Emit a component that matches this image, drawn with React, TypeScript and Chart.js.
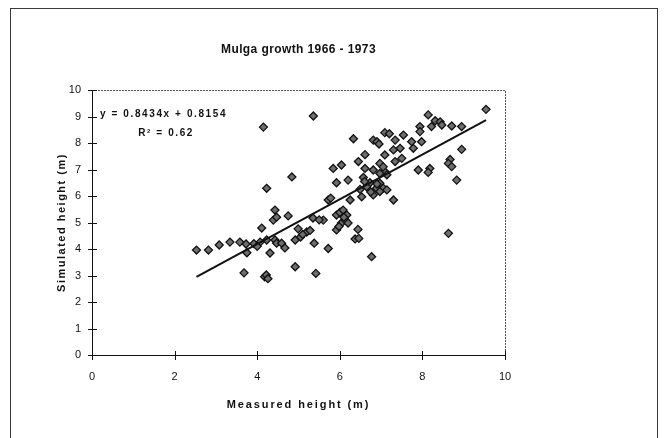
import React, { useEffect, useRef } from "react";
import { Chart, registerables } from "chart.js";

Chart.register(...registerables);

const measured: number[] = [
  2.53, 2.82, 3.08, 3.34, 3.58, 3.73, 3.75, 3.68, 4.18, 4.22, 4.26, 4.11, 4.07, 4.23, 4.31, 4.43,
  4.47, 4.39, 4.59, 4.67, 4.75, 4.43, 4.47, 4.23, 4.84, 4.15, 5.36, 4.99, 5.2, 4.92, 5.05, 5.38,
  5.72, 4.92, 5.42, 5.35, 5.6, 5.92, 6.04, 5.92, 6.44, 6.37, 6.77, 6.17, 6.04, 5.72, 5.78, 6.0,
  6.13, 6.2, 6.46, 5.92, 6.2, 5.84, 6.04, 6.33, 6.61, 6.45, 6.61, 6.53, 6.49, 6.73, 6.81, 6.81,
  6.9, 6.95, 7.09, 6.81, 6.57, 6.89, 7.05, 7.09, 6.97, 7.09, 6.25, 6.08, 9.54, 8.14, 8.31, 8.43,
  8.22, 8.47, 8.71, 8.95, 7.94, 7.94, 7.98, 7.2, 7.54, 7.34, 7.3, 7.74, 7.78, 7.46, 7.05, 7.34,
  7.5, 6.97, 7.14, 6.97, 7.14, 7.3, 8.95, 8.67, 8.63, 8.71, 8.18, 8.14, 7.9, 8.83, 8.63, 6.97,
  6.65, 6.75, 6.9, 6.6, 5.98, 6.1, 5.1, 5.28, 5.5, 3.92, 4.0,
];

const simulated: number[] = [
  3.96, 3.96, 4.15, 4.26, 4.26, 4.19, 3.86, 3.1, 2.95, 3.02, 2.88, 4.79, 4.26, 4.34, 3.85, 4.34,
  4.22, 5.09, 4.22, 4.04, 5.25, 5.47, 5.2, 6.29, 6.72, 8.6, 9.02, 4.76, 4.64, 4.34, 4.45, 4.22,
  4.02, 3.33, 3.08, 5.17, 5.09, 5.28, 4.98, 4.72, 4.74, 4.38, 3.71, 5.28, 5.41, 5.85, 5.92, 5.38,
  5.09, 4.98, 4.4, 6.5, 6.6, 7.04, 7.17, 8.16, 7.56, 7.3, 7.04, 5.97, 6.25, 6.5, 6.98, 8.11,
  8.05, 7.96, 8.39, 6.04, 6.7, 6.29, 6.3, 7.55, 7.23, 6.92, 5.85, 5.47, 9.27, 9.06, 8.84, 8.8,
  8.62, 8.68, 8.64, 8.62, 8.62, 8.43, 8.05, 8.35, 8.3, 8.11, 7.74, 8.05, 7.8, 7.8, 7.1, 7.3,
  7.42, 6.85, 6.8, 6.48, 6.23, 5.85, 7.76, 7.38, 7.23, 7.11, 7.04, 6.89, 6.98, 6.6, 4.59, 6.17,
  6.35, 6.15, 6.45, 6.55, 4.85, 5.2, 4.55, 4.7, 5.1, 4.2, 4.1,
];

const xTicks: number[] = [0, 2, 4, 6, 8, 10];
const yTicks: number[] = [0, 1, 2, 3, 4, 5, 6, 7, 8, 9, 10];

const trendSlope = 0.8434;
const trendIntercept = 0.8154;

const chartTitle = "Mulga growth 1966 - 1973";
const xAxisTitle = "Measured height (m)";
const yAxisTitle = "Simulated height (m)";
const equationLabel = "y = 0.8434x + 0.8154";
const rSquaredLabel = "R² = 0.62";

const FONT = "'Liberation Sans', Arial, sans-serif";

export default function App() {
  const canvasRef = useRef<HTMLCanvasElement | null>(null);

  useEffect(() => {
    if (!canvasRef.current) return;
    const points = measured.map((x, i) => ({ x, y: simulated[i] }));
    const minX = Math.min(...measured);
    const maxX = Math.max(...measured);
    const trend = [
      { x: minX, y: trendSlope * minX + trendIntercept },
      { x: maxX, y: trendSlope * maxX + trendIntercept },
    ];

    const decor = {
      id: "decor",
      afterDraw(chart: any) {
        const ctx = chart.ctx as CanvasRenderingContext2D;
        const { left, right, top, bottom } = chart.chartArea;
        const xs = chart.scales.x;
        const ys = chart.scales.y;
        ctx.save();
        // outer frame
        ctx.strokeStyle = "#3a3a3a";
        ctx.lineWidth = 1;
        ctx.setLineDash([]);
        ctx.strokeRect(10.5, 8.5, 647, 445);
        // plot area top/right border (dotted)
        ctx.strokeStyle = "#555";
        ctx.setLineDash([2, 1]);
        ctx.beginPath();
        ctx.moveTo(left, top + 0.5);
        ctx.lineTo(right + 0.5, top + 0.5);
        ctx.lineTo(right + 0.5, bottom);
        ctx.stroke();
        ctx.setLineDash([]);
        // axes
        ctx.strokeStyle = "#111";
        ctx.beginPath();
        ctx.moveTo(left + 0.5, top);
        ctx.lineTo(left + 0.5, bottom + 0.5);
        ctx.lineTo(right, bottom + 0.5);
        ctx.stroke();
        // cross tick marks
        ctx.beginPath();
        yTicks.forEach((v) => {
          const py = Math.round(ys.getPixelForValue(v)) + 0.5;
          ctx.moveTo(left - 4, py);
          ctx.lineTo(left + 5, py);
        });
        xTicks.forEach((v) => {
          const px = Math.round(xs.getPixelForValue(v)) + 0.5;
          ctx.moveTo(px, bottom - 4);
          ctx.lineTo(px, bottom + 5);
        });
        ctx.stroke();

        ctx.fillStyle = "#111";
        ctx.textBaseline = "middle";
        // chart title
        ctx.font = `bold 12px ${FONT}`;
        (ctx as any).letterSpacing = "0.4px";
        ctx.textAlign = "center";
        ctx.fillText(chartTitle, (left + right) / 2, 50);
        // x-axis title
        ctx.font = `bold 11px ${FONT}`;
        (ctx as any).letterSpacing = "1.9px";
        ctx.fillText(xAxisTitle, (left + right) / 2, 405);
        // y-axis title
        ctx.save();
        (ctx as any).letterSpacing = "1.5px";
        ctx.translate(62, (top + bottom) / 2);
        ctx.rotate(-Math.PI / 2);
        ctx.fillText(yAxisTitle, 0, 0);
        ctx.restore();
        // equation
        ctx.font = `bold 10px ${FONT}`;
        (ctx as any).letterSpacing = "1.6px";
        ctx.textAlign = "left";
        ctx.fillText(equationLabel, left + 8, 114);
        ctx.textAlign = "right";
        ctx.fillText(rSquaredLabel, 194, 133);
        ctx.restore();
      },
    };

    const chart = new Chart(canvasRef.current, {
      type: "scatter",
      data: {
        datasets: [
          {
            type: "line",
            data: trend,
            borderColor: "#111",
            borderWidth: 2,
            pointRadius: 0,
            fill: false,
          } as any,
          {
            data: points,
            pointStyle: "rectRot",
            pointRadius: 4,
            backgroundColor: "#6e6e6e",
            borderColor: "#111",
            borderWidth: 1.3,
          },
        ],
      },
      options: {
        animation: false,
        responsive: false,
        events: [],
        layout: { padding: { left: 10, right: 159, top: 90, bottom: 0 } },
        plugins: { legend: { display: false }, tooltip: { enabled: false }, title: { display: false } },
        scales: {
          x: {
            type: "linear",
            min: 0,
            max: 10,
            afterFit: (s: any) => {
              s.height = 83;
            },
            afterBuildTicks: (s: any) => {
              s.ticks = xTicks.map((v) => ({ value: v }));
            },
            grid: { display: false, drawTicks: false },
            border: { display: false },
            ticks: { padding: 15, color: "#111", font: { family: FONT, size: 11 } },
          },
          y: {
            type: "linear",
            min: 0,
            max: 10,
            afterFit: (s: any) => {
              s.width = 82;
            },
            afterBuildTicks: (s: any) => {
              s.ticks = yTicks.map((v) => ({ value: v }));
            },
            grid: { display: false, drawTicks: false },
            border: { display: false },
            ticks: { padding: 11, color: "#111", font: { family: FONT, size: 11 } },
          },
        },
      },
      plugins: [decor],
    } as any);

    return () => chart.destroy();
  }, []);

  return (
    <div style={{ position: "fixed", left: 0, top: 0, width: 664, height: 438, background: "#fff" }}>
      <canvas ref={canvasRef} width={664} height={438} style={{ display: "block" }} />
    </div>
  );
}
